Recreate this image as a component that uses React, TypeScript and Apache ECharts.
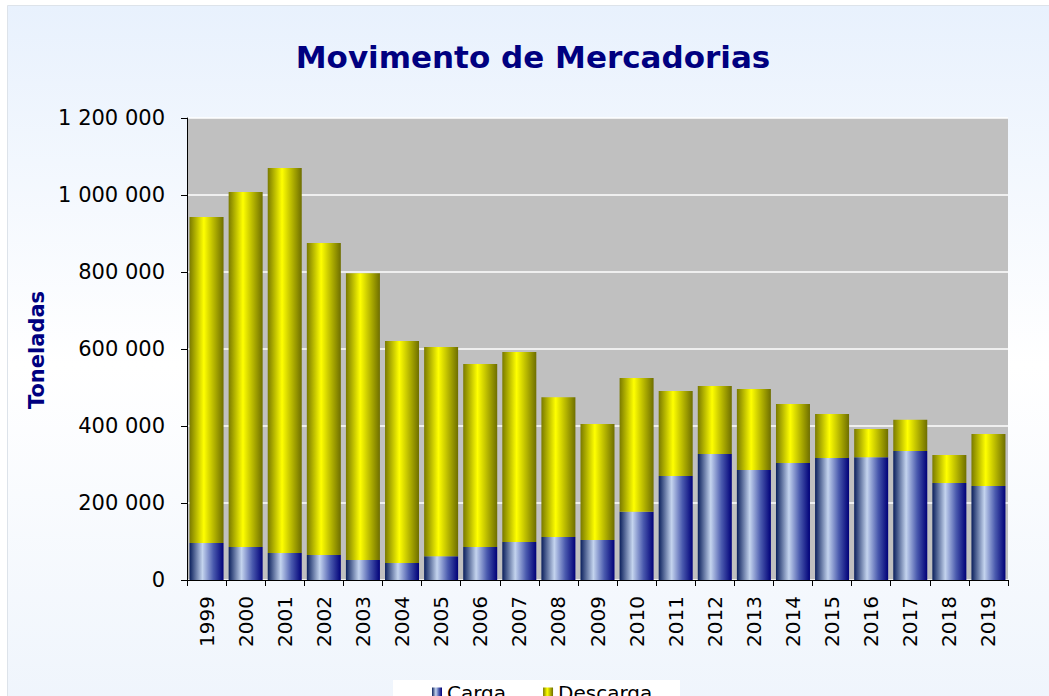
import React, { useEffect, useRef } from "react";
import * as echarts from "echarts";

const years = ["1999","2000","2001","2002","2003","2004","2005","2006","2007","2008","2009","2010","2011","2012","2013","2014","2015","2016","2017","2018","2019"];
const carga = [96000, 86000, 70000, 65000, 52000, 44000, 62000, 86000, 99000, 112000, 104000, 177000, 270000, 327000, 286000, 304000, 317000, 319000, 335000, 252000, 244000];
const totals = [943000, 1008000, 1070000, 875000, 797000, 621000, 605000, 561000, 592000, 475000, 405000, 525000, 491000, 504000, 496000, 457000, 431000, 392000, 416000, 325000, 379000];
const descarga = totals.map((t, i) => t - carga[i]);
const yTicks = { min: 0, max: 1200000, interval: 200000 };

const FONT = "DejaVu Sans, Verdana, sans-serif";

function fmt(v: number): string {
  return String(v).replace(/\B(?=(\d{3})+(?!\d))/g, " ");
}

export default function App() {
  const ref = useRef<HTMLDivElement>(null);
  useEffect(() => {
    if (!ref.current) return;
    const chart = echarts.init(ref.current, undefined, { renderer: "svg" });
    const blue = new echarts.graphic.LinearGradient(0, 0, 1, 0, [
      { offset: 0, color: "#0a1f5c" },
      { offset: 0.38, color: "#c4d4ee" },
      { offset: 0.7, color: "#4a5aae" },
      { offset: 1, color: "#000078" },
    ]);
    const yellow = new echarts.graphic.LinearGradient(0, 0, 1, 0, [
      { offset: 0, color: "#7a7a00" },
      { offset: 0.42, color: "#ffff00" },
      { offset: 1, color: "#6e6e00" },
    ]);
    chart.setOption({
      animation: false,
      textStyle: { fontFamily: FONT },
      graphic: [
        {
          type: "rect",
          z: -10,
          silent: true,
          shape: { x: 7.5, y: 5.5, width: 1060, height: 720 },
          style: {
            fill: new echarts.graphic.LinearGradient(0, 0, 0, 1, [
              { offset: 0, color: "#e8f1fd" },
              { offset: 0.5, color: "#ffffff" },
              { offset: 1, color: "#eef4fc" },
            ]),
            stroke: "#dde3ea",
            lineWidth: 1,
          },
        },
        {
          type: "text",
          x: 533,
          y: 57,
          style: {
            text: "Movimento de Mercadorias",
            fill: "#000080",
            font: `bold 31px ${FONT}`,
            align: "center",
            verticalAlign: "middle",
          },
        },
        {
          type: "text",
          x: 37,
          y: 350,
          rotation: Math.PI / 2,
          style: {
            text: "Toneladas",
            fill: "#000080",
            font: `bold 21px ${FONT}`,
            align: "center",
            verticalAlign: "middle",
          },
        },
        {
          type: "rect",
          z: -5,
          silent: true,
          shape: { x: 393, y: 680, width: 287, height: 40 },
          style: { fill: "#ffffff", stroke: "none" },
        },
      ],
      legend: {
        data: ["Carga", "Descarga"],
        left: 432,
        top: 683,
        itemWidth: 10,
        itemHeight: 11,
        itemGap: 37,
        padding: 0,
        icon: "rect",
        textStyle: { fontSize: 20, color: "#000", fontFamily: FONT },
      },
      grid: { left: 187, right: 41, top: 118, bottom: 116, containLabel: false, show: true, backgroundColor: "#c0c0c0", borderWidth: 0 },
      xAxis: {
        type: "category",
        data: years,
        axisLine: { lineStyle: { color: "#000", width: 1 } },
        axisTick: { show: true, length: 6, lineStyle: { color: "#000" } },
        axisLabel: { rotate: 90, fontSize: 20, color: "#000", margin: 16, fontFamily: FONT },
      },
      yAxis: {
        type: "value",
        min: yTicks.min,
        max: yTicks.max,
        interval: yTicks.interval,
        axisLine: { show: true, lineStyle: { color: "#000", width: 1 } },
        axisTick: { show: true, length: 6, lineStyle: { color: "#000" } },
        splitLine: { show: true, lineStyle: { color: "#ffffff", width: 1.5 } },
        axisLabel: { fontSize: 21, color: "#000", margin: 22, fontFamily: FONT, formatter: (v: number) => fmt(v) },
      },
      series: [
        {
          name: "Carga",
          type: "bar",
          stack: "total",
          data: carga,
          barWidth: 34,
          itemStyle: { color: blue },
        },
        {
          name: "Descarga",
          type: "bar",
          stack: "total",
          data: descarga,
          barWidth: 34,
          itemStyle: { color: yellow },
        },
      ],
    });
    return () => chart.dispose();
  }, []);
  return <div ref={ref} style={{ position: "absolute", left: 0, top: 0, width: 1049, height: 696 }} />;
}
